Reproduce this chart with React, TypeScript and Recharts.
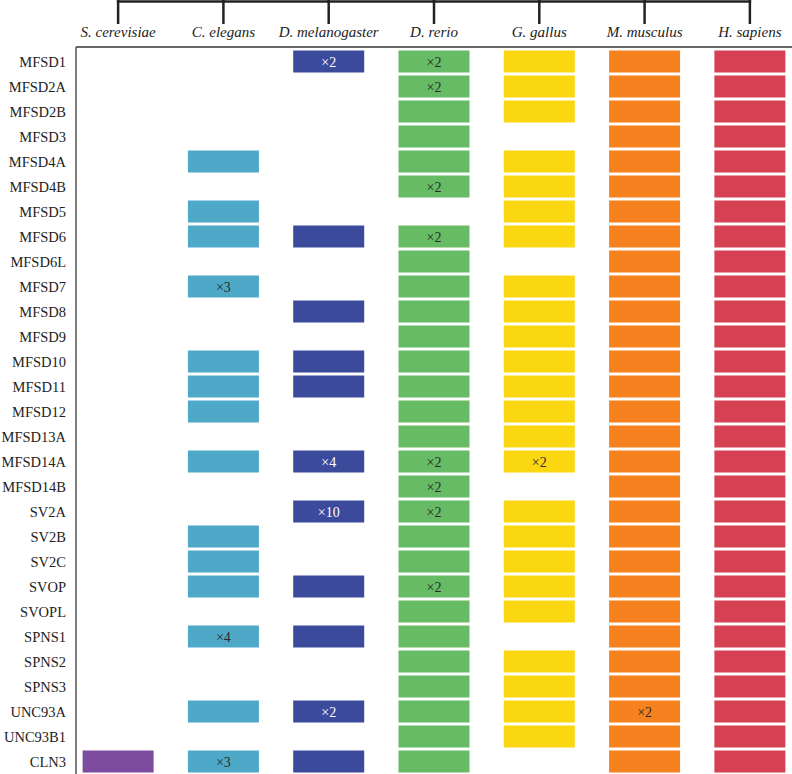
import React from 'react';
import { ScatterChart, Scatter, XAxis, YAxis } from 'recharts';

// gene families (rows, top to bottom)
const GENES = [
  'MFSD1', 'MFSD2A', 'MFSD2B', 'MFSD3', 'MFSD4A', 'MFSD4B', 'MFSD5', 'MFSD6', 'MFSD6L', 'MFSD7',
  'MFSD8', 'MFSD9', 'MFSD10', 'MFSD11', 'MFSD12', 'MFSD13A', 'MFSD14A', 'MFSD14B', 'SV2A', 'SV2B',
  'SV2C', 'SVOP', 'SVOPL', 'SPNS1', 'SPNS2', 'SPNS3', 'UNC93A', 'UNC93B1', 'CLN3',
];

const SPECIES = [
  'S. cerevisiae', 'C. elegans', 'D. melanogaster', 'D. rerio', 'G. gallus', 'M. musculus', 'H. sapiens',
];

// copy number per gene (0 = absent)
const S_CEREVISIAE = [0,0,0,0,0,0,0,0,0,0,0,0,0,0,0,0,0,0,0,0,0,0,0,0,0,0,0,0,1];
const C_ELEGANS = [0,0,0,0,1,0,1,1,0,3,0,0,1,1,1,0,1,0,0,1,1,1,0,4,0,0,1,0,3];
const D_MELANOGASTER = [2,0,0,0,0,0,0,1,0,0,1,0,1,1,0,0,4,0,10,0,0,1,0,1,0,0,2,0,1];
const D_RERIO = [2,2,1,1,1,2,0,2,1,1,1,1,1,1,1,1,2,2,2,1,1,2,1,1,1,1,1,1,1];
const G_GALLUS = [1,1,1,0,1,1,1,1,0,1,1,1,1,1,1,1,2,0,1,1,1,1,1,0,1,1,1,1,0];
const M_MUSCULUS = [1,1,1,1,1,1,1,1,1,1,1,1,1,1,1,1,1,1,1,1,1,1,1,1,1,1,2,1,1];
const H_SAPIENS = [1,1,1,1,1,1,1,1,1,1,1,1,1,1,1,1,1,1,1,1,1,1,1,1,1,1,1,1,1];

const COUNTS = [S_CEREVISIAE, C_ELEGANS, D_MELANOGASTER, D_RERIO, G_GALLUS, M_MUSCULUS, H_SAPIENS];
const COLORS = ['#7d4c9e', '#4ea9c8', '#3c4a9c', '#66bb64', '#fbd711', '#f5821f', '#d54153'];
const TEXT_COLORS = ['#fff', '#2a2a2a', '#fff', '#2a2a2a', '#2a2a2a', '#2a2a2a', '#fff'];

const W = 792;
const H = 774;
const AXIS_TOP = 47;
const AXIS_LEFT = 76;
const X_MIN = -0.4;
const X_MAX = 6.4;
const Y_MIN = -0.58;
const Y_MAX = 28.5;
const PITCH = (W - AXIS_LEFT) / (X_MAX - X_MIN);
const BOX_W = 71;
const BOX_H = 22;

const serif = '"Liberation Serif", "Times New Roman", serif';

const makeShape = (j: number) => (props: any) => {
  const { cx, cy, payload } = props;
  return (
    <g>
      <rect x={cx - BOX_W / 2} y={cy - BOX_H / 2} width={BOX_W} height={BOX_H} fill={COLORS[j]} />
      {payload.n > 1 && (
        <text x={cx} y={cy + 5} textAnchor="middle" fontSize={14} fontFamily={serif} fill={TEXT_COLORS[j]}>
          {'\u00d7' + payload.n}
        </text>
      )}
    </g>
  );
};

const SpeciesTick = (props: any) => {
  const { x, payload, index } = props;
  return (
    <g>
      <line x1={x} y1={0} x2={x} y2={24} stroke="#222" strokeWidth={2.5} />
      {index < SPECIES.length - 1 && (
        <line x1={x - 1.25} y1={1.5} x2={x + PITCH + 1.25} y2={1.5} stroke="#222" strokeWidth={2.5} />
      )}
      <text x={x} y={37} textAnchor="middle" fontSize={15} fontStyle="italic" fontFamily={serif} fill="#222">
        {SPECIES[payload.value]}
      </text>
    </g>
  );
};

export default function App() {
  const series = COUNTS.map((arr, j) =>
    GENES.map((g, i) => ({ x: j, y: i, n: arr[i], gene: g })).filter((d) => d.n > 0)
  );

  return (
    <div style={{ position: 'absolute', left: 0, top: 0, background: '#fff' }}>
      <ScatterChart width={W} height={H} margin={{ top: 0, right: 0, bottom: 0, left: 0 }}>
        <XAxis
          type="number"
          dataKey="x"
          orientation="top"
          height={AXIS_TOP}
          domain={[X_MIN, X_MAX]}
          ticks={[0, 1, 2, 3, 4, 5, 6]}
          interval={0}
          allowDataOverflow
          tickLine={false}
          axisLine={{ stroke: '#333', strokeWidth: 1.5 }}
          tick={<SpeciesTick />}
        />
        <YAxis
          type="number"
          dataKey="y"
          width={AXIS_LEFT}
          reversed
          domain={[Y_MIN, Y_MAX]}
          ticks={GENES.map((_, i) => i)}
          interval={0}
          allowDataOverflow
          tickLine={false}
          tickSize={0}
          tickMargin={10}
          tickFormatter={(v: number) => GENES[v]}
          axisLine={{ stroke: '#555', strokeWidth: 1.5 }}
          tick={{ fill: '#222', fontSize: 14.5, fontFamily: serif }}
        />
        {series.map((data, j) => (
          <Scatter
            key={SPECIES[j]}
            data={data}
            shape={makeShape(j)}
            isAnimationActive={false}
          />
        ))}
      </ScatterChart>
    </div>
  );
}
